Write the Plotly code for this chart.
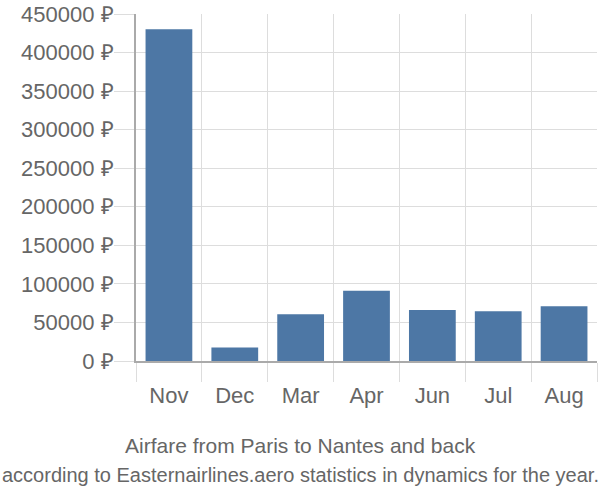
import plotly.graph_objects as go

months = ["Nov", "Dec", "Mar", "Apr", "Jun", "Jul", "Aug"]
prices = [430100, 17400, 60700, 91000, 66300, 64600, 71100]
y_ticks = [0, 50000, 100000, 150000, 200000, 250000, 300000, 350000, 400000, 450000]
y_labels = [f"{v} ₽" for v in y_ticks]
title = "Airfare from Paris to Nantes and back"
subtitle = "according to Easternairlines.aero statistics in dynamics for the year."

W, H = 600, 500
L, R, T, B = 136, 3, 14, 139
plot_w = W - L - R
plot_h = H - T - B

def px(xpage):
    return (xpage - L) / plot_w

def py(ypage):
    return (H - B - ypage) / plot_h

fig = go.Figure(go.Bar(x=months, y=prices, marker=dict(color="#4d77a5", line=dict(width=0))))

fig.update_layout(
    width=W, height=H,
    margin=dict(l=L, r=R, t=T, b=B, pad=0, autoexpand=False),
    plot_bgcolor="white", paper_bgcolor="white",
    bargap=0.29,
    showlegend=False,
    font=dict(family="Liberation Sans, Arial, sans-serif", color="#666666"),
)
fig.update_xaxes(
    type="category", tickson="boundaries",
    showgrid=True, gridcolor="#dddddd", gridwidth=1,
    ticks="outside", ticklen=19, tickcolor="#dddddd",
    showline=True, linecolor="#aaaaaa", linewidth=2,
    ticklabelstandoff=14, automargin=False,
    tickfont=dict(size=22, color="#666666"),
)
fig.update_yaxes(
    range=[0, 450000], tickvals=y_ticks, ticktext=y_labels,
    showgrid=True, gridcolor="#dddddd", gridwidth=1,
    ticks="outside", ticklen=20, tickcolor="#dddddd",
    showline=True, linecolor="#aaaaaa", linewidth=2,
    zeroline=False,
    ticklabelstandoff=-4, automargin=False,
    ticklabeloverflow="allow",
    tickfont=dict(size=22, color="#666666"),
)
fig.add_annotation(text=title, xref="paper", yref="paper", x=px(300), xanchor="center",
                   y=py(445), yanchor="middle", showarrow=False,
                   font=dict(size=21, color="#666666"))
fig.add_annotation(text=subtitle, xref="paper", yref="paper", x=px(300), xanchor="center",
                   y=py(475), yanchor="middle", showarrow=False,
                   font=dict(size=20, color="#666666"))
fig.write_html("out.html", config={"displayModeBar": False},
               post_script="document.body.style.margin='0';document.body.style.overflow='hidden';")
